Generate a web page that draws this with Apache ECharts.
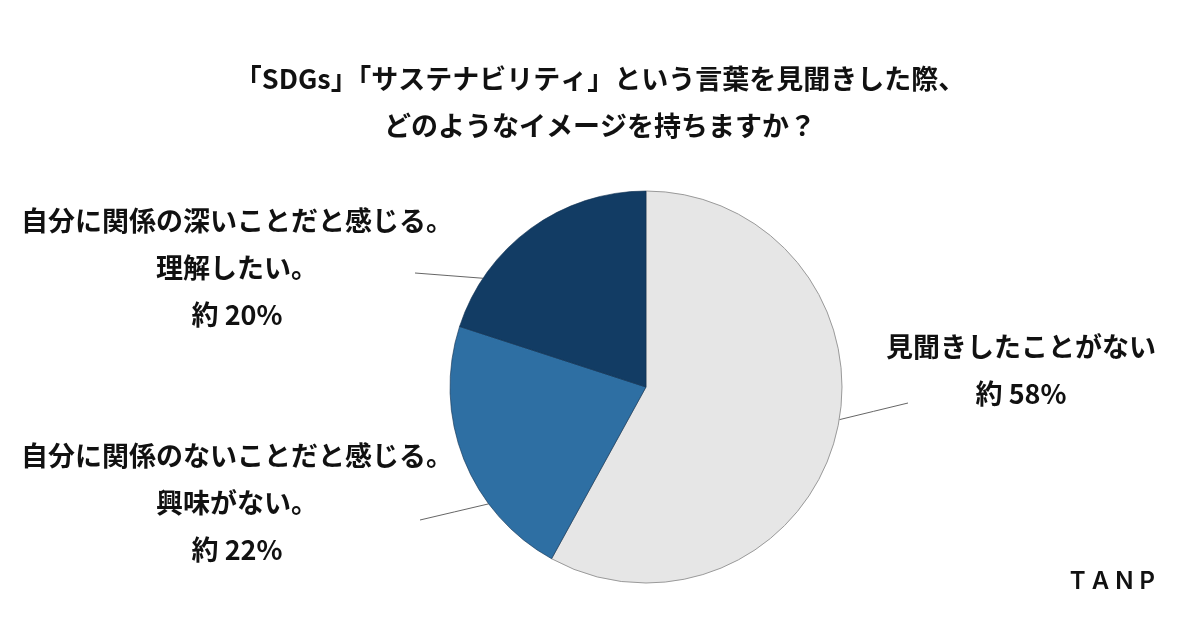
<!DOCTYPE html>
<html>
<head>
<meta charset="utf-8">
<script src="https://cdn.jsdelivr.net/npm/echarts@6/dist/echarts.min.js"></script>
<style>html,body{margin:0;padding:0;background:#fff}#c{width:1200px;height:628px}</style>
</head>
<body>
<div id="c"></div>
<script>
const titleLines = [
  '「SDGs」「サステナビリティ」という言葉を見聞きした際、',
  'どのようなイメージを持ちますか？'
];
const categories = [
  '見聞きしたことがない',
  '自分に関係のないことだと感じる。\n興味がない。',
  '自分に関係の深いことだと感じる。\n理解したい。'
];
const values = [58, 22, 20];
const colors = ['#e6e6e6', '#2e6fa3', '#123c64'];

// label placement (layout only)
const PIE_CENTER = [646, 387];
const PIE_RADIUS = 196;
const labelLayoutCfg = [
  { x: 1021, y: 370, lineAngle: 99.6, lineEnd: [908, 403] },
  { x: 237, y: 503, lineAngle: 233.4, lineEnd: [420, 520] },
  { x: 237, y: 268, lineAngle: 303.7, lineEnd: [415, 273] }
];

const font = '"Noto Sans CJK JP", "Noto Sans", sans-serif';
const chart = echarts.init(document.getElementById('c'), null, { renderer: 'canvas' });

function edgePoint(deg) {
  const r = deg * Math.PI / 180;
  return [PIE_CENTER[0] + PIE_RADIUS * Math.sin(r), PIE_CENTER[1] - PIE_RADIUS * Math.cos(r)];
}

const titleStyle = { fontFamily: font, fontSize: 27, fontWeight: 'bold', color: '#111' };

chart.setOption({
  backgroundColor: '#fff',
  animation: false,
  title: [{
    text: titleLines[0],
    left: 'center',
    top: 60,
    textStyle: titleStyle
  }, {
    text: titleLines[1],
    left: 'center',
    top: 107,
    textStyle: titleStyle
  }, {
    text: 'T A N P',
    right: 40,
    top: 565,
    textStyle: { fontFamily: 'Inter, "Noto Sans", sans-serif', fontSize: 24, fontWeight: 600, color: '#111' }
  }],
  series: [{
    type: 'pie',
    center: PIE_CENTER,
    radius: PIE_RADIUS,
    startAngle: 90,
    clockwise: true,
    data: categories.map((n, i) => ({
      name: n,
      value: values[i],
      itemStyle: { color: colors[i], borderColor: i === 0 ? '#9a9a9a' : '#0e2f50', borderWidth: i === 0 ? 1 : 0.6 }
    })),
    label: {
      show: true,
      position: 'outside',
      overflow: 'none',
      formatter: p => p.name + '\n約 ' + p.value + '%',
      fontFamily: font,
      fontSize: 27,
      fontWeight: 'bold',
      color: '#111',
      lineHeight: 47,
      align: 'center'
    },
    labelLine: { show: true, lineStyle: { color: '#666', width: 1 } },
    labelLayout: function (params) {
      const cfg = labelLayoutCfg[params.dataIndex];
      const s = edgePoint(cfg.lineAngle);
      const e = cfg.lineEnd;
      return {
        x: cfg.x,
        y: cfg.y,
        align: 'center',
        verticalAlign: 'middle',
        labelLinePoints: [s, [(s[0] + e[0]) / 2, (s[1] + e[1]) / 2], e]
      };
    },
    emphasis: { disabled: true }
  }]
});
</script>
</body>
</html>
